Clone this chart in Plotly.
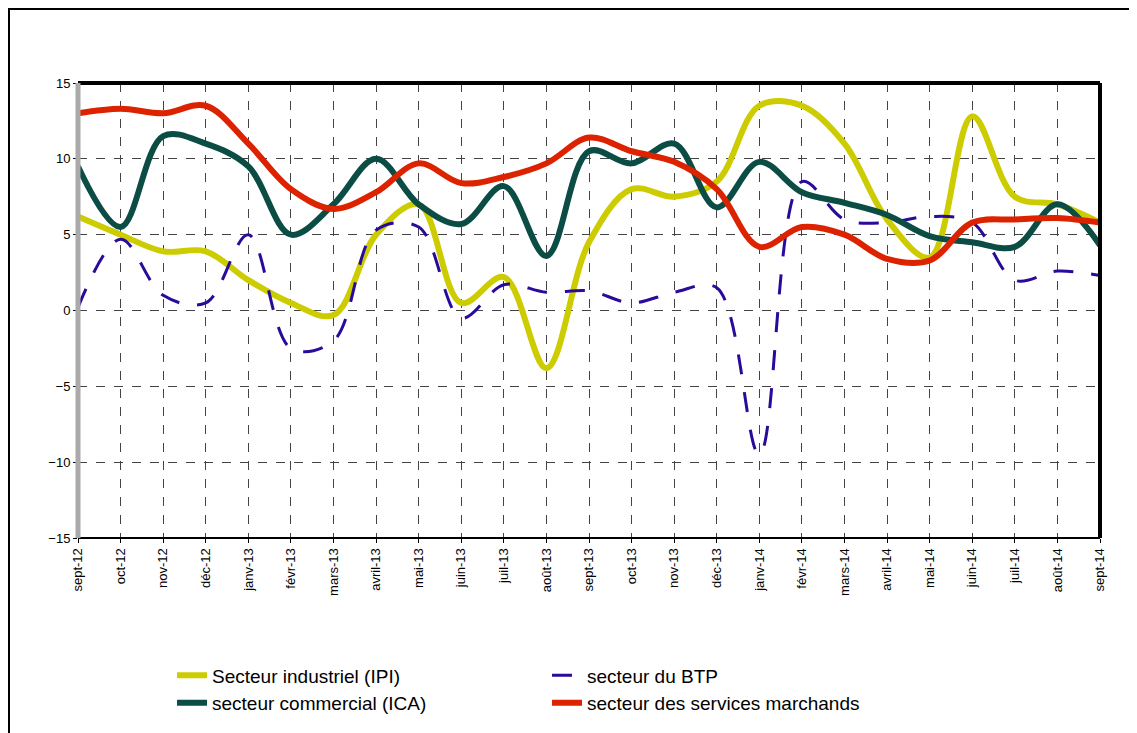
import plotly.graph_objects as go

months = ["sept-12","oct-12","nov-12","déc-12","janv-13","févr-13","mars-13","avril-13","mai-13","juin-13","juil-13","août-13",
          "sept-13","oct-13","nov-13","déc-13","janv-14","févr-14","mars-14","avril-14","mai-14","juin-14","juil-14","août-14","sept-14"]
ipi = [6.2,5,3.9,3.9,2,0.5,-0.3,5,7,0.5,2.2,-3.8,4.5,8,7.5,8.5,13.5,13.5,11,6,3.5,12.8,7.5,7,5.8]
btp = [0.2,4.7,1,0.5,5,-2.5,-2,5.3,5.5,-0.5,1.7,1.2,1.3,0.5,1.2,1.5,-9.5,8.5,6,5.8,6.2,5.8,2,2.6,2.3]
ica = [9.5,5.5,11.5,11,9.5,5,7,10,7,5.7,8.2,3.6,10.5,9.7,11,6.8,9.8,7.8,7.1,6.3,4.9,4.5,4.2,7,4.3]
svc = [13,13.3,13,13.5,11,8,6.7,7.8,9.7,8.4,8.8,9.7,11.4,10.5,9.8,8,4.2,5.5,5,3.4,3.3,5.8,6,6.1,5.8]

x = list(range(len(months)))
fig = go.Figure()
def add(y, name, color, dash="solid", w=6):
    fig.add_trace(go.Scatter(x=x, y=y, name=name, mode="lines",
                             line=dict(color=color, width=w, dash=dash, shape="spline", smoothing=1)))
add(ipi, "Secteur industriel (IPI)", "#cccc00")
add(btp, "secteur du BTP", "#2a0a9a", dash="20px,18px", w=3)
add(ica, "secteur commercial (ICA)", "#0b4d44")
add(svc, "secteur des services marchands", "#dd2200")

L, T, W, H = 70, 75, 1022, 455
fig.update_layout(
    width=1137, height=733, margin=dict(l=L, r=1137-L-W, t=T, b=733-T-H),
    paper_bgcolor="white", plot_bgcolor="white",
    font=dict(family="Liberation Sans, Arial", size=13, color="black"),
    xaxis=dict(range=[0, 24], tickvals=x, ticktext=months, tickangle=-90, showgrid=True, automargin=False,
               gridcolor="#444", griddash="dash", gridwidth=1, zeroline=False, ticks="outside",
               tickcolor="black", ticklen=4, showline=False),
    yaxis=dict(range=[-15, 15], dtick=5, showgrid=True, gridcolor="#444", griddash="dash", automargin=False,
               zeroline=False, ticks="outside", ticklen=4, tickcolor="black", showline=False),
    legend=dict(orientation="h", x=0.092, y=-0.26, xanchor="left", yanchor="top",
                entrywidth=330, font=dict(size=19), traceorder="normal"),
    showlegend=True,
)
fig.add_shape(type="line", xref="paper", yref="paper", x0=0, x1=1, y0=1, y1=1, line=dict(color="black", width=4))
fig.add_shape(type="line", xref="paper", yref="paper", x0=1, x1=1, y0=0, y1=1, line=dict(color="black", width=4))
fig.add_shape(type="line", xref="paper", yref="paper", x0=0, x1=1, y0=0, y1=0, line=dict(color="black", width=2))
fig.add_shape(type="line", xref="paper", yref="paper", x0=0, x1=0, y0=0, y1=1, line=dict(color="#aaaaaa", width=5))
fig.add_shape(type="rect", xref="paper", yref="paper",
              x0=(1-L)/W, x1=(1133-L)/W, y0=-(733-T-H)/H - 0.01, y1=(T-1)/H + 1,
              line=dict(color="black", width=2))
fig.write_html("out.html")
